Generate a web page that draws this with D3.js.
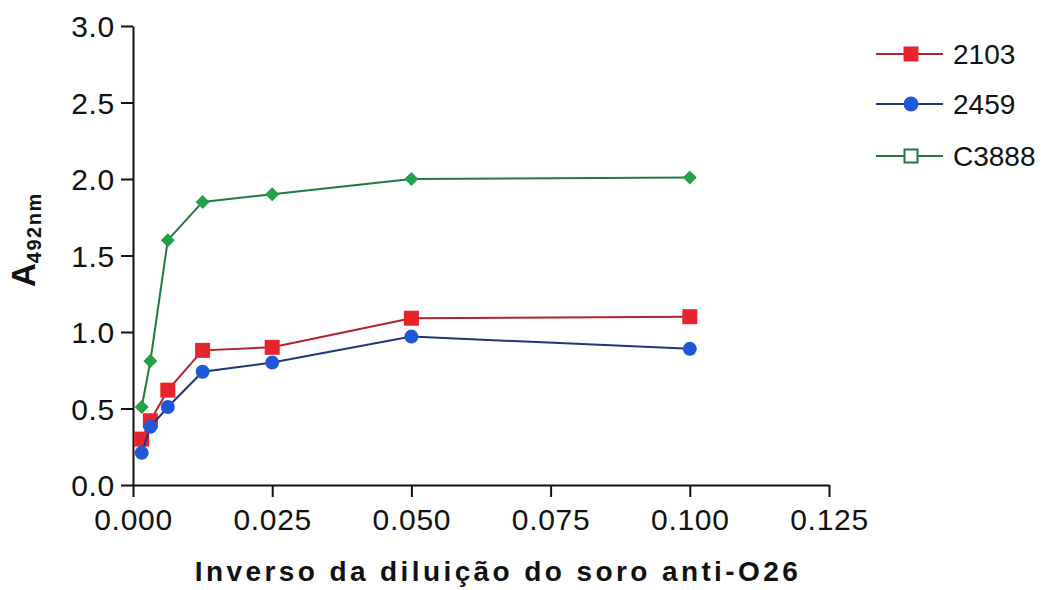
<!DOCTYPE html>
<html>
<head>
<meta charset="utf-8">
<script src="https://cdn.jsdelivr.net/npm/d3@7"></script>
<style>
  html, body { margin: 0; padding: 0; background: #fff; }
  svg { display: block; }
</style>
</head>
<body>
<svg id="chart" width="1041" height="590"></svg>
<script>
// Inverse of the serum dilution (1/640 ... 1/10)
const dilutions = [1/640, 1/320, 1/160, 1/80, 1/40, 1/20, 1/10];
const series2103 = [0.30, 0.42, 0.62, 0.88, 0.90, 1.09, 1.10];
const series2459 = [0.21, 0.38, 0.51, 0.74, 0.80, 0.97, 0.89];
const seriesC3888 = [0.51, 0.81, 1.60, 1.85, 1.90, 2.00, 2.01];
const seriesNames = ["2103", "2459", "C3888"];
const xTicks = [0, 0.025, 0.05, 0.075, 0.1, 0.125];
const yTicks = [0, 0.5, 1.0, 1.5, 2.0, 2.5, 3.0];

const FONT = "'Liberation Sans', Arial, Helvetica, sans-serif";
const svg = d3.select("#chart");
const x = d3.scaleLinear().domain([0, 0.125]).range([133, 829]);
const y = d3.scaleLinear().domain([0, 3]).range([485, 26]);

const styles = [
  { line: "#b0242c", fill: "#e8242e", marker: "square" },
  { line: "#1f3778", fill: "#1f57d6", marker: "circle" },
  { line: "#1f7a3e", fill: "#23a04a", marker: "diamond" }
];
const data = [series2103, series2459, seriesC3888];

// Axes
const xAxis = d3.axisBottom(x).tickValues(xTicks).tickFormat(d3.format(".3f")).tickSize(12).tickSizeOuter(0);
const yAxis = d3.axisLeft(y).tickValues(yTicks).tickFormat(d3.format(".1f")).tickSize(12).tickSizeOuter(0);

const gx = svg.append("g").attr("transform", `translate(0,${y(0)})`).call(xAxis);
const gy = svg.append("g").attr("transform", `translate(${x(0)},0)`).call(yAxis);
[gx, gy].forEach(g => {
  g.select(".domain").attr("stroke", "#111").attr("stroke-width", 2);
  g.selectAll(".tick line").attr("stroke", "#111").attr("stroke-width", 2);
  g.selectAll(".tick text")
    .attr("font-family", FONT).attr("font-size", 30)
    .attr("letter-spacing", 0.7).attr("fill", "#111");
});
gx.selectAll(".tick text").attr("y", 24).attr("dy", "0.71em");
gy.selectAll(".tick text").attr("x", -18).attr("dy", "0.36em");

// Axis titles
svg.append("text")
  .attr("x", 498)
  .attr("y", 581)
  .attr("text-anchor", "middle")
  .attr("font-family", FONT)
  .attr("font-weight", "bold")
  .attr("font-size", 28)
  .attr("letter-spacing", 3.4)
  .attr("fill", "#111")
  .text("Inverso da diluição do soro anti-O26");

const yl = svg.append("text")
  .attr("transform", "translate(35,287) rotate(-90)")
  .attr("text-anchor", "start")
  .attr("font-family", FONT)
  .attr("font-weight", "bold")
  .attr("fill", "#111");
yl.append("tspan").attr("font-size", 33).text("A");
yl.append("tspan").attr("font-size", 20).attr("dy", 6).attr("letter-spacing", 1.5).text("492nm");

// Markers
function drawMarker(g, type, cx, cy, st, size) {
  if (type === "square") {
    g.append("rect").attr("x", cx - size / 2).attr("y", cy - size / 2)
      .attr("width", size).attr("height", size).attr("fill", st.fill);
  } else if (type === "circle") {
    g.append("circle").attr("cx", cx).attr("cy", cy).attr("r", size / 2).attr("fill", st.fill);
  } else if (type === "diamond") {
    const r = size / 2;
    g.append("path").attr("d", `M${cx},${cy - r}L${cx + r},${cy}L${cx},${cy + r}L${cx - r},${cy}Z`)
      .attr("fill", st.fill);
  } else if (type === "open") {
    g.append("rect").attr("x", cx - size / 2).attr("y", cy - size / 2)
      .attr("width", size).attr("height", size).attr("fill", "#fff")
      .attr("stroke", st.line).attr("stroke-width", 2);
  }
}
const sizes = { square: 15, circle: 14, diamond: 14 };

const line = d3.line().x(d => x(d[0])).y(d => y(d[1]));
data.forEach((vals, i) => {
  const st = styles[i];
  const pts = dilutions.map((d, j) => [d, vals[j]]);
  const g = svg.append("g");
  g.append("path").datum(pts).attr("d", line)
    .attr("fill", "none").attr("stroke", st.line).attr("stroke-width", 2);
  pts.forEach(p => drawMarker(g, st.marker, x(p[0]), y(p[1]), st, sizes[st.marker]));
});

// Legend
const legendY = [54, 104, 156];
const legendMarkers = ["square", "circle", "open"];
seriesNames.forEach((name, i) => {
  const st = styles[i];
  const g = svg.append("g");
  g.append("line").attr("x1", 876).attr("x2", 943).attr("y1", legendY[i]).attr("y2", legendY[i])
    .attr("stroke", st.line).attr("stroke-width", 2);
  drawMarker(g, legendMarkers[i], 911, legendY[i], st, legendMarkers[i] === "open" ? 13 : 15);
  g.append("text").attr("x", 953).attr("y", legendY[i]).attr("dy", "0.36em")
    .attr("font-family", FONT).attr("font-size", 28)
    .attr("fill", "#111").text(name);
});
</script>
</body>
</html>
